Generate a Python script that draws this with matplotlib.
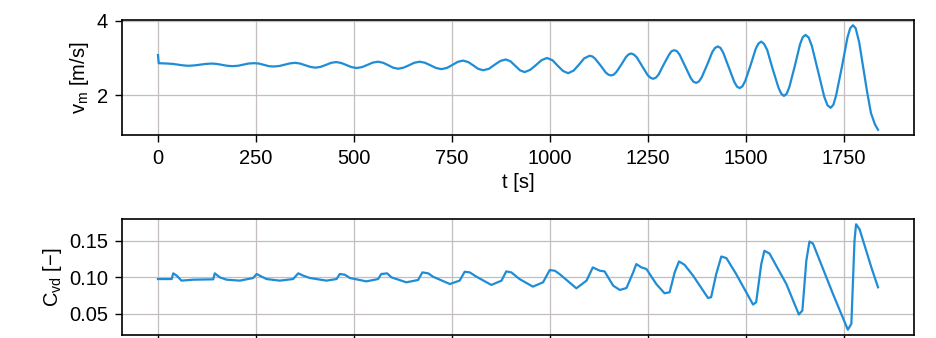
import matplotlib
matplotlib.use("Agg")
import matplotlib.pyplot as plt

plt.rcParams['font.family'] = ['Liberation Sans', 'DejaVu Sans']
plt.rcParams['mathtext.default'] = 'regular'
plt.rcParams['font.size'] = 14.5

# mean velocity over time
t_v = [0, 2, 25, 38, 52, 65,
       78, 93, 108, 122, 137, 150, 164, 177,
       190, 204, 218, 231, 245, 258, 271, 283,
       296, 310, 323, 337, 350, 363, 376, 389,
       402, 415, 429, 442, 455, 468, 481, 494,
       507, 521, 535, 548, 562, 575, 588, 600,
       613, 627, 641, 654, 668, 682, 696, 710,
       724, 738, 752, 765, 779, 792, 805, 817,
       830, 845, 859, 874, 888, 900, 912, 924,
       936, 950, 965, 979, 993, 1007, 1020, 1034,
       1047, 1061, 1075, 1088,
       1102, 1109, 1116, 1130, 1143, 1150,
       1157, 1163, 1170, 1183, 1195, 1202,
       1208, 1215, 1222, 1236, 1250, 1257,
       1264, 1271, 1278, 1291, 1305, 1311,
       1318, 1325, 1332, 1346, 1360, 1367,
       1374, 1381, 1388, 1402, 1415, 1422,
       1429, 1436, 1443, 1457, 1471, 1478,
       1485, 1492, 1499, 1513, 1526, 1533,
       1540, 1547, 1555, 1569, 1584, 1591,
       1598, 1605, 1612, 1626, 1639, 1646,
       1653, 1661, 1669, 1685, 1701, 1709,
       1717, 1724, 1731, 1746, 1760, 1767,
       1774, 1781, 1790, 1800, 1810, 1820, 1830, 1838]
v_m = [3.08, 2.86, 2.85, 2.84, 2.82, 2.80,
       2.79, 2.80, 2.82, 2.84, 2.85, 2.84, 2.815, 2.79,
       2.78, 2.79, 2.82, 2.85, 2.86, 2.85, 2.815, 2.78,
       2.77, 2.785, 2.82, 2.855, 2.87, 2.85, 2.805, 2.76,
       2.74, 2.76, 2.815, 2.87, 2.89, 2.865, 2.81, 2.755,
       2.73, 2.755, 2.815, 2.875, 2.90, 2.87, 2.805, 2.74,
       2.71, 2.74, 2.805, 2.87, 2.90, 2.87, 2.80, 2.73,
       2.70, 2.735, 2.815, 2.895, 2.93, 2.89, 2.80, 2.71,
       2.67, 2.71, 2.815, 2.92, 2.96, 2.91, 2.79, 2.67,
       2.62, 2.68, 2.81, 2.94, 3.00, 2.94, 2.795, 2.65,
       2.59, 2.66, 2.825, 2.99,
       3.06, 3.04, 2.98, 2.795, 2.61, 2.55,
       2.53, 2.55, 2.62, 2.825, 3.03, 3.10,
       3.12, 3.09, 3.02, 2.78, 2.54, 2.47,
       2.44, 2.47, 2.555, 2.825, 3.095, 3.18,
       3.21, 3.18, 3.08, 2.77, 2.46, 2.36,
       2.33, 2.37, 2.48, 2.82, 3.16, 3.27,
       3.31, 3.27, 3.14, 2.75, 2.36, 2.23,
       2.19, 2.24, 2.38, 2.815, 3.25, 3.39,
       3.44, 3.38, 3.22, 2.71, 2.20, 2.04,
       1.98, 2.04, 2.23, 2.80, 3.37, 3.56,
       3.62, 3.55, 3.33, 2.64, 1.95, 1.73,
       1.66, 1.74, 1.99, 2.77, 3.55, 3.80,
       3.88, 3.80, 3.42, 2.76, 2.10, 1.52, 1.22, 1.07]

# drag coefficient over time
t_c = [0, 35, 39, 48, 60, 90,
       141, 145, 158, 175, 209,
       243, 252, 260, 277, 311,
       345, 358, 371, 388, 430,
       456, 464, 477, 490, 532,
       562, 570, 585, 596, 634,
       664, 675, 690, 702, 745,
       770, 783, 796, 813, 851,
       877, 889, 902, 923, 957,
       983, 1000, 1013, 1025, 1068,
       1094, 1110, 1128, 1140, 1162, 1179,
       1196, 1213, 1221, 1234, 1247, 1272, 1293,
       1306, 1319, 1330, 1344, 1366, 1404,
       1412, 1425, 1438, 1451, 1476, 1519,
       1527, 1540, 1548, 1561, 1604, 1636,
       1645, 1655, 1663, 1672, 1723, 1761,
       1770, 1778, 1782, 1791, 1808, 1821, 1838]
c_vd = [0.0977, 0.0977, 0.1055, 0.1023, 0.0955, 0.0968,
        0.0973, 0.1055, 0.1000, 0.0968, 0.0955,
        0.0991, 0.1046, 0.1023, 0.0977, 0.0955,
        0.0977, 0.1055, 0.1023, 0.0991, 0.0955,
        0.0977, 0.1046, 0.1036, 0.0991, 0.0945,
        0.0977, 0.1046, 0.1055, 0.1000, 0.0932,
        0.0964, 0.1068, 0.1055, 0.1009, 0.0909,
        0.0955, 0.1077, 0.1068, 0.1009, 0.0896,
        0.0955, 0.1082, 0.1068, 0.0977, 0.0873,
        0.0932, 0.1100, 0.1091, 0.1046, 0.0850,
        0.0955, 0.1136, 0.1091, 0.1082, 0.0886, 0.0827,
        0.0854, 0.1068, 0.1182, 0.1137, 0.1114, 0.0909, 0.0782,
        0.0795, 0.1068, 0.1218, 0.1173, 0.1023, 0.0718,
        0.0727, 0.1045, 0.1286, 0.1264, 0.1045, 0.0627,
        0.0659, 0.1182, 0.1364, 0.1327, 0.0909, 0.0491,
        0.0546, 0.1227, 0.1491, 0.1464, 0.0773, 0.0282,
        0.0364, 0.1500, 0.1728, 0.1659, 0.1364, 0.1137, 0.0864]

x_ticks = [0, 250, 500, 750, 1000, 1250, 1500, 1750]
line_color = '#1f8dd6'
grid_color = '#c4bebe'

fig = plt.figure(figsize=(9.36, 3.38), dpi=100)
ax1 = fig.add_axes([0.1303, 0.6006, 0.8462, 0.3402])
ax2 = fig.add_axes([0.1303, 0.0089, 0.8462, 0.3432])

ax1.plot(t_v, v_m, color=line_color, lw=1.6, solid_joinstyle='round')
ax1.set_yticks([2, 4])
ax1.set_ylabel('v$_m$ [m/s]')
ax1.set_xlabel('t [s]')

ax2.plot(t_c, c_vd, color=line_color, lw=1.6, solid_joinstyle='round')
ax2.set_yticks([0.05, 0.10, 0.15])
ax2.set_yticklabels(['0.05', '0.10', '0.15'])
ax2.set_ylabel('C$_{vd}$ [\u2212]')
# the lower panel's time labels fall below the page edge
ax2.tick_params(axis='x', labelbottom=False)

for ax in (ax1, ax2):
    ax.set_xticks(x_ticks)
    ax.grid(True, color=grid_color, lw=0.9)
    ax.set_axisbelow(True)
    ax.tick_params(length=5, width=1, pad=5)
    for sp in ax.spines.values():
        sp.set_linewidth(1.2)

fig.savefig('out.png', dpi=100)
